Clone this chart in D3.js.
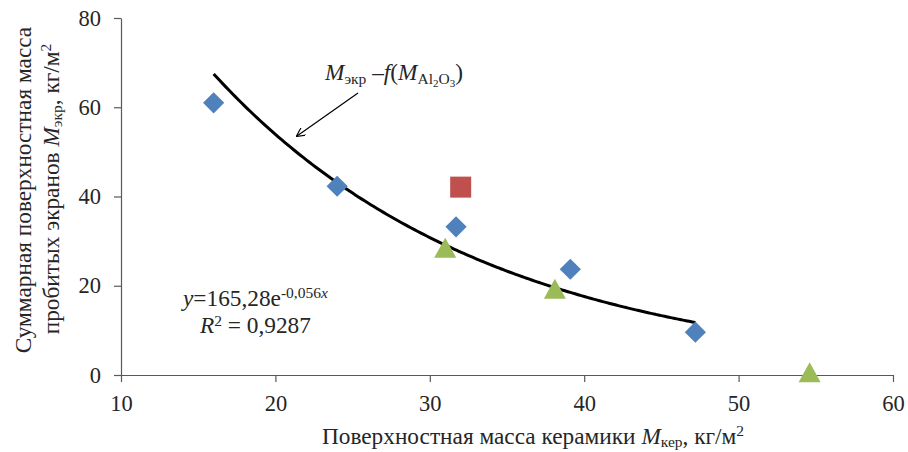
<!DOCTYPE html>
<html><head><meta charset="utf-8">
<script src="https://cdn.jsdelivr.net/npm/d3@7"></script>
<style>body{margin:0;background:#fff}svg{display:block}text{font-family:"Liberation Serif","Times New Roman",Tinos,serif !important;fill:#262626}</style>
</head><body><svg id="c" width="908" height="452"></svg>
<script>
const diamondX = [16, 24, 31.7, 39.1, 47.2];
const diamondY = [61, 42.3, 33.2, 23.7, 9.6];
const squareX = [32];
const squareY = [42.1];
const triangleX = [31, 38.1, 54.6];
const triangleY = [28.3, 19.1, 0.4];
const xTicks = [10, 20, 30, 40, 50, 60];
const yTicks = [0, 20, 40, 60, 80];
const trendA = 165.28, trendB = -0.056;
const trendRange = [16, 47.2];

const FS = 23.3, TFS = 22.5, SUB = 15.5;
const svg = d3.select("#c");
const x = d3.scaleLinear().domain([10, 60]).range([121, 893]);
const y = d3.scaleLinear().domain([0, 80]).range([375, 18]);
const axisColor = "#595959";

const xa = svg.append("g").attr("transform", "translate(0,375)")
  .call(d3.axisBottom(x).tickValues(xTicks).tickSize(7).tickSizeOuter(0).tickPadding(13));
const ya = svg.append("g").attr("transform", "translate(121,0)")
  .call(d3.axisLeft(y).tickValues(yTicks).tickSize(7).tickSizeOuter(0).tickPadding(13));
[xa, ya].forEach(g => {
  g.attr("font-family", null);
  g.selectAll("path,line").attr("stroke", axisColor).attr("stroke-width", 1.2);
  g.selectAll("text").attr("font-size", TFS).attr("fill", "#262626");
});

// trend curve
const tPts = d3.range(trendRange[0], trendRange[1] + 0.001, 0.2).map(v => [v, trendA * Math.exp(trendB * v)]);
tPts.push([trendRange[1], trendA * Math.exp(trendB * trendRange[1])]);
svg.append("path").attr("d", d3.line().x(d => x(d[0])).y(d => y(d[1])).curve(d3.curveMonotoneX)(tPts))
  .attr("fill", "none").attr("stroke", "#000").attr("stroke-width", 3);

// markers
svg.selectAll(".dm").data(diamondX.map((v, i) => [v, diamondY[i]])).enter().append("rect")
  .attr("x", -7.5).attr("y", -7.5).attr("width", 15).attr("height", 15)
  .attr("transform", d => `translate(${x(d[0])},${y(d[1])}) rotate(45)`)
  .attr("fill", "#4F81BD");
svg.selectAll(".sq").data(squareX.map((v, i) => [v, squareY[i]])).enter().append("rect")
  .attr("x", d => x(d[0]) - 10.5).attr("y", d => y(d[1]) - 10.5).attr("width", 21).attr("height", 21)
  .attr("fill", "#C0504D");
svg.selectAll(".tr").data(triangleX.map((v, i) => [v, triangleY[i]])).enter().append("path")
  .attr("d", "M0,-11 L11,9 L-11,9 Z")
  .attr("transform", d => `translate(${x(d[0])},${y(d[1])})`)
  .attr("fill", "#9BBB59");

// annotation
const ann = svg.append("text").attr("x", 325).attr("y", 80).attr("font-size", FS);
ann.append("tspan").attr("font-style", "italic").text("M");
ann.append("tspan").attr("font-size", SUB).attr("dy", 4).text("экр");
ann.append("tspan").attr("dy", -4).text(" –");
ann.append("tspan").attr("font-style", "italic").text("f");
ann.append("tspan").text("(");
ann.append("tspan").attr("font-style", "italic").text("M");
ann.append("tspan").attr("font-size", SUB).attr("dy", 4).text("Al");
ann.append("tspan").attr("font-size", 11).attr("dy", 3).text("2");
ann.append("tspan").attr("font-size", SUB).attr("dy", -3).text("O");
ann.append("tspan").attr("font-size", 11).attr("dy", 3).text("3");
ann.append("tspan").attr("dy", -7).text(")");

svg.append("defs").append("marker").attr("id", "ah").attr("viewBox", "0 0 10 10")
  .attr("refX", 9).attr("refY", 5).attr("markerWidth", 9).attr("markerHeight", 9).attr("orient", "auto")
  .attr("markerUnits", "userSpaceOnUse")
  .append("path").attr("d", "M0,0 L10,5 L0,10").attr("fill", "none").attr("stroke", "#000").attr("stroke-width", 1.3);
svg.append("line").attr("x1", 358).attr("y1", 93).attr("x2", 297).attr("y2", 136)
  .attr("stroke", "#000").attr("stroke-width", 1.2).attr("marker-end", "url(#ah)");

// equation
const eq = svg.append("text").attr("x", 183).attr("y", 306).attr("font-size", FS);
eq.append("tspan").attr("font-style", "italic").text("y");
eq.append("tspan").text("=165,28e");
eq.append("tspan").attr("font-size", SUB).attr("dy", -8).text("-0,056");
eq.append("tspan").attr("font-size", SUB).attr("font-style", "italic").text("x");
const r2 = svg.append("text").attr("x", 200).attr("y", 333).attr("font-size", FS);
r2.append("tspan").attr("font-style", "italic").text("R");
r2.append("tspan").attr("font-size", SUB).attr("dy", -7).text("2");
r2.append("tspan").attr("dy", 7).text(" = 0,9287");

// axis titles
const xt = svg.append("text").attr("x", 533).attr("y", 444).attr("text-anchor", "middle").attr("font-size", FS);
xt.append("tspan").text("Поверхностная масса керамики ");
xt.append("tspan").attr("font-style", "italic").text("M");
xt.append("tspan").attr("font-size", SUB).attr("dy", 3).text("кер");
xt.append("tspan").attr("dy", -3).text(", кг/м");
xt.append("tspan").attr("font-size", SUB).attr("dy", -8).text("2");

svg.append("text").attr("transform", "translate(31,190) rotate(-90)").attr("text-anchor", "middle").attr("font-size", FS)
  .text("Суммарная поверхностная масса");
const yt2 = svg.append("text").attr("transform", "translate(59,189) rotate(-90)").attr("text-anchor", "middle").attr("font-size", FS);
yt2.append("tspan").text("пробитых экранов ");
yt2.append("tspan").attr("font-style", "italic").text("M");
yt2.append("tspan").attr("font-size", SUB).attr("dy", 3).text("экр");
yt2.append("tspan").attr("dy", -3).text(", кг/м");
yt2.append("tspan").attr("font-size", SUB).attr("dy", -8).text("2");
</script></body></html>
